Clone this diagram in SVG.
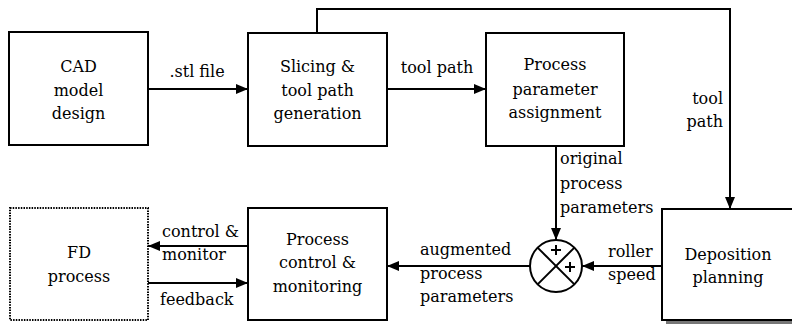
<svg xmlns="http://www.w3.org/2000/svg" width="792" height="328" viewBox="0 0 792 328" font-family="'DejaVu Serif', serif" font-size="16">
  <defs>
    <marker id="arrow" markerUnits="userSpaceOnUse" markerWidth="12" markerHeight="10" refX="12" refY="5" orient="auto">
      <path d="M0,0 L12,5 L0,10 Z" fill="#000"/>
    </marker>
  </defs>
  <style>
    .box { fill: #fff; stroke: #000; stroke-width: 2; }
    .dotted { fill: #fff; stroke: #000; stroke-width: 2; stroke-dasharray: 1.5 1.2; }
    .edge { fill: none; stroke: #000; stroke-width: 2; }
    text { fill: #000; }
    .c { text-anchor: middle; }
    .r { text-anchor: end; }
  </style>
  <rect width="792" height="328" fill="#fff"/>

  <!-- connectors -->
  <g id="connectors">
    <line class="edge" x1="148" y1="89" x2="248" y2="89" marker-end="url(#arrow)"/>
    <line class="edge" x1="387" y1="89" x2="486" y2="89" marker-end="url(#arrow)"/>
    <polyline class="edge" points="317,33 317,9 730,9 730,209" marker-end="url(#arrow)"/>
    <line class="edge" x1="556" y1="146" x2="556" y2="240" marker-end="url(#arrow)"/>
    <line class="edge" x1="662" y1="266" x2="582" y2="266" marker-end="url(#arrow)"/>
    <line class="edge" x1="530" y1="266" x2="387" y2="266" marker-end="url(#arrow)"/>
    <line class="edge" x1="248" y1="246" x2="148" y2="246" marker-end="url(#arrow)"/>
    <line class="edge" x1="148" y1="283" x2="248" y2="283" marker-end="url(#arrow)"/>

    <text class="c" x="197" y="77">.stl file</text>
    <text class="c" x="437" y="73">tool path</text>
    <text class="r" x="723" y="104">tool</text>
    <text class="r" x="723" y="127">path</text>
    <text x="560" y="164">original</text>
    <text x="560" y="189">process</text>
    <text x="560" y="213">parameters</text>
    <text x="608" y="257">roller</text>
    <text x="608" y="280">speed</text>
    <text x="420" y="255">augmented</text>
    <text x="420" y="279">process</text>
    <text x="420" y="302">parameters</text>
    <text x="162" y="237">control &amp;</text>
    <text x="162" y="260">monitor</text>
    <text x="160" y="305">feedback</text>
  </g>

  <g id="cad">
    <rect class="box" x="9" y="32" width="139" height="113"/>
    <text class="c" x="78.5" y="72">CAD</text>
    <text class="c" x="78.5" y="96">model</text>
    <text class="c" x="78.5" y="119">design</text>
  </g>

  <g id="slicing">
    <rect class="box" x="248" y="33" width="139" height="113"/>
    <text class="c" x="317.5" y="72">Slicing &amp;</text>
    <text class="c" x="317.5" y="96">tool path</text>
    <text class="c" x="317.5" y="119">generation</text>
  </g>

  <g id="assignment">
    <rect class="box" x="486" y="33" width="138" height="113"/>
    <text class="c" x="555" y="70">Process</text>
    <text class="c" x="555" y="95">parameter</text>
    <text class="c" x="555" y="118">assignment</text>
  </g>

  <g id="summing">
    <circle cx="556" cy="266" r="26" fill="#fff" stroke="#000" stroke-width="2"/>
    <line class="edge" x1="537.6" y1="247.6" x2="574.4" y2="284.4"/>
    <line class="edge" x1="574.4" y1="247.6" x2="537.6" y2="284.4"/>
    <path class="edge" d="M551,250 H561 M556,245 V255"/>
    <path class="edge" d="M565,267 H575 M570,262 V272"/>
  </g>

  <g id="deposition">
    <rect x="666" y="320" width="130" height="4" fill="#777"/>
    <rect class="box" x="662" y="209" width="140" height="111"/>
    <text class="c" x="728" y="260">Deposition</text>
    <text class="c" x="728" y="283">planning</text>
  </g>

  <g id="control">
    <rect class="box" x="248" y="208" width="139" height="112"/>
    <text class="c" x="317.5" y="245">Process</text>
    <text class="c" x="317.5" y="268">control &amp;</text>
    <text class="c" x="317.5" y="292">monitoring</text>
  </g>

  <g id="fd">
    <rect class="dotted" x="10" y="208" width="138" height="112"/>
    <text class="c" x="79" y="258">FD</text>
    <text class="c" x="79" y="282">process</text>
  </g>
</svg>
